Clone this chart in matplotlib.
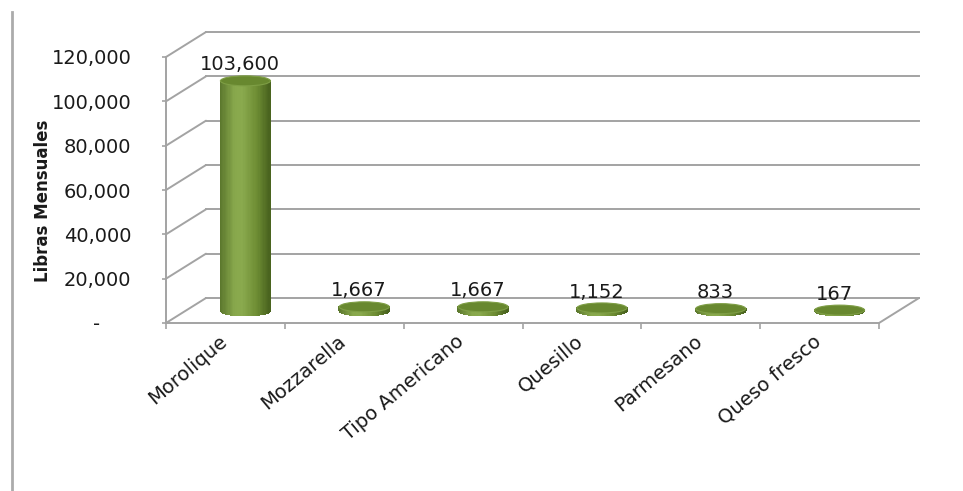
import numpy as np
import matplotlib
matplotlib.use("Agg")
import matplotlib.pyplot as plt
import matplotlib.transforms as mtrans
from matplotlib.patches import Ellipse, ConnectionPatch
from matplotlib.collections import PolyCollection
from matplotlib.colors import LinearSegmentedColormap
from matplotlib.lines import Line2D

# data
categories = ["Morolique", "Mozzarella", "Tipo Americano", "Quesillo", "Parmesano", "Queso fresco"]
libras = [103600, 1667, 1667, 1152, 833, 167]
y_ticks = [0, 20000, 40000, 60000, 80000, 100000, 120000]
y_ticklabels = ["-     ", "20,000", "40,000", "60,000", "80,000", "100,000", "120,000"]

W, H, DPI = 963, 491, 100
grid_col = "#a3a3a3"
txt_col = "#1a1a1a"

fig = plt.figure(figsize=(W / DPI, H / DPI), dpi=DPI)
# front plane of the 3d box
ax = fig.add_axes([166 / W, 168 / H, 713 / W, 266 / H])
ax.set_xlim(0, len(categories))
ax.set_ylim(0, 120000)

# depth offsets (pixels) for back wall and for the middle where cylinders sit
back = mtrans.offset_copy(ax.transData, fig, x=40, y=25, units="dots")
mid = mtrans.offset_copy(ax.transData, fig, x=20, y=12.5, units="dots")

# back wall gridlines + diagonals on the side wall
for v in y_ticks:
    ax.plot([0, len(categories)], [v, v], transform=back, color=grid_col, lw=1.4, clip_on=False, zorder=1)
    cp = ConnectionPatch((0, v), (0, v), coordsA=ax.transData, coordsB=back,
                         color=grid_col, lw=1.4, shrinkA=0, shrinkB=0)
    cp.set_clip_on(False)
    ax.add_artist(cp)
# floor right edge
cp = ConnectionPatch((len(categories), 0), (len(categories), 0), coordsA=ax.transData, coordsB=back,
                     color=grid_col, lw=1.4, shrinkA=0, shrinkB=0)
cp.set_clip_on(False)
ax.add_artist(cp)

# cylinders
cmap = LinearSegmentedColormap.from_list("cyl", [(0, "#5a762c"), (0.3, "#88a84c"), (0.45, "#8aaa4e"),
                                                 (0.75, "#6d8c33"), (1, "#48621e")])
px_x = (713 / len(categories))        # pixels per category
px_y = 266 / 120000                   # pixels per unit
bw = 50 / px_x                        # cylinder width in data units
eh = 10 / px_y                        # ellipse height in data units
nstrip = 40
for i, v in enumerate(libras):
    c = i + 0.5
    xs = np.linspace(c - bw / 2, c + bw / 2, nstrip + 1)
    polys, cols = [], []
    for k in range(nstrip):
        x0, x1 = xs[k], xs[k + 1]
        u0 = (x0 - c) / (bw / 2)
        u1 = (x1 - c) / (bw / 2)
        yb0 = -eh / 2 * np.sqrt(max(0, 1 - u0 ** 2))
        yb1 = -eh / 2 * np.sqrt(max(0, 1 - u1 ** 2))
        polys.append([(x0, yb0), (x1, yb1), (x1, v), (x0, v)])
        cols.append(cmap((k + 0.5) / nstrip))
    pc = PolyCollection(polys, facecolors=cols, edgecolors=cols, linewidths=0.6,
                        antialiaseds=False, transform=mid, zorder=3, clip_on=False)
    ax.add_collection(pc)
    top = Ellipse((c, v), bw, eh, transform=mid, facecolor="#68882f", edgecolor="#7e9e45",
                  lw=0.8, zorder=4, clip_on=False)
    ax.add_patch(top)
    ax.annotate(f"{v:,}", xy=(c, v), xycoords=mid, xytext=(-4, 7.5), textcoords="offset points",
                ha="center", va="baseline", fontsize=14, color=txt_col, zorder=5)

# axes lines and ticks
for s in ["top", "right"]:
    ax.spines[s].set_visible(False)
for s in ["left", "bottom"]:
    ax.spines[s].set_color(grid_col)
    ax.spines[s].set_linewidth(1.4)
ax.set_yticks(y_ticks)
ax.set_yticklabels(y_ticklabels)
ax.tick_params(axis="y", direction="out", length=3, width=1.2, color=grid_col, pad=22,
               labelsize=14, labelcolor=txt_col)
ax.set_xticks(range(len(categories) + 1))
ax.set_xticklabels([])
ax.tick_params(axis="x", which="major", direction="out", length=4, width=1.2, color=grid_col)
ax.set_xticks(np.arange(len(categories)) + 0.5, minor=True)
ax.set_xticklabels(categories, minor=True, rotation=40, ha="right", va="top",
                   fontsize=14, color=txt_col)
ax.tick_params(axis="x", which="minor", length=0, pad=6)
# nudge category labels a little to the right
shift = mtrans.ScaledTranslation(5 / DPI, 0, fig.dpi_scale_trans)
for lab in ax.get_xticklabels(minor=True):
    lab.set_transform(lab.get_transform() + shift)
ax.patch.set_alpha(0)

ax.text(-0.1725, 0.459, "Libras Mensuales", transform=ax.transAxes, rotation=90,
        ha="center", va="center", fontsize=12, fontweight="bold", color=txt_col)

# left border line of the original frame
fig.add_artist(Line2D([12 / W, 12 / W], [0, 1 - 12 / H], transform=fig.transFigure,
                      color="#ababab", lw=2))

fig.savefig("out.png", dpi=DPI)
